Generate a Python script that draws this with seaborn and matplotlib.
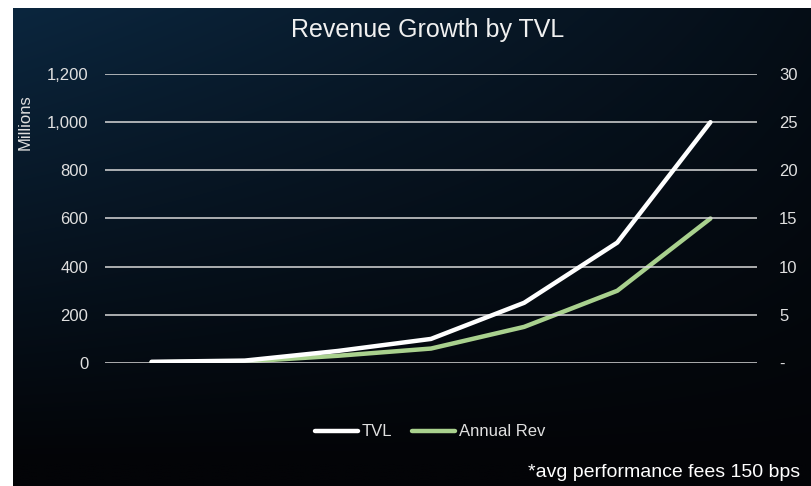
import numpy as np
import pandas as pd
import matplotlib
matplotlib.use("Agg")
import matplotlib.pyplot as plt
import seaborn as sns
from matplotlib.lines import Line2D
from matplotlib.ticker import FuncFormatter, MultipleLocator

# Data
periods = ["P1", "P2", "P3", "P4", "P5", "P6", "P7"]
tvl_millions = [5, 10, 50, 100, 250, 500, 1000]
annual_rev_millions = [0.075, 0.15, 0.75, 1.5, 3.75, 7.5, 15]

sns.set_theme(style="white")
narrow = ["Liberation Sans Narrow", "Liberation Sans", "DejaVu Sans"]
plt.rcParams['font.family'] = ["Liberation Sans", "DejaVu Sans"]

W, H = 812, 486
fig = plt.figure(figsize=(W / 100, H / 100), dpi=100)
fig.patch.set_facecolor("white")

# background gradient panel
bg = fig.add_axes([13 / W, 0, 1 - 13 / W, 1 - 8 / H])
ny, nx = 200, 300
yy, xx = np.mgrid[0:1:ny * 1j, 0:1:nx * 1j]
w = np.clip(1 - 1.05 * yy, 0, 1) ** 1.0 * np.clip(1 - 0.8 * xx, 0, 1) ** 0.8
navy = np.array([11, 38, 62]) / 255
black = np.array([3, 4, 7]) / 255
img = black + (navy - black) * w[..., None]
bg.imshow(img, aspect="auto", extent=[0, 1, 1, 0], interpolation="bilinear")
bg.set_axis_off()

df = pd.DataFrame({"period": periods, "TVL": tvl_millions, "Annual Rev": annual_rev_millions})

ax = fig.add_axes([105 / W, 1 - 363 / H, (757 - 105) / W, (363 - 74) / H])
ax.set_facecolor("none")
ax2 = ax.twinx()

sns.lineplot(data=df, x="period", y="TVL", ax=ax, color="white", linewidth=3.2, sort=False, zorder=4)
sns.lineplot(data=df, x="period", y="Annual Rev", ax=ax2, color="#a9d18e", linewidth=3.2, sort=False, zorder=3)

ax.set_ylim(0, 1200)
ax2.set_ylim(0, 30)
ax.set_xlim(-0.5, 6.5)
ax.yaxis.set_major_locator(MultipleLocator(200))
ax2.yaxis.set_major_locator(MultipleLocator(5))
ax.yaxis.set_major_formatter(FuncFormatter(lambda v, p: f"{int(v):,}"))
ax2.yaxis.set_major_formatter(FuncFormatter(lambda v, p: "-" if v == 0 else f"{int(v)}"))

ax.grid(axis="y", color="#d9d9d9", linewidth=1.1)
ax.set_axisbelow(True)
for a in (ax, ax2):
    for s in a.spines.values():
        s.set_visible(False)
    a.tick_params(axis="both", length=0, labelsize=12, labelcolor="#e0e0e0")
    a.set_xlabel("")
    a.set_ylabel("")
ax.set_xticks(range(len(periods)))
ax.set_xticklabels([])
ax.tick_params(axis="y", pad=12)
ax2.tick_params(axis="y", pad=16)
ax.set_zorder(ax2.get_zorder() + 1)
ax.patch.set_visible(False)

fig.text(25 / W, 1 - 122 / H, "Millions", rotation=90, ha="center", va="center",
         color="#e0e0e0", fontsize=12)
fig.text(428 / W, 1 - 30 / H, "Revenue Growth by TVL", ha="center", va="center",
         color="#f0f0f0", fontsize=18, family=narrow)

handles = [Line2D([], [], color="white", linewidth=3.2),
           Line2D([], [], color="#a9d18e", linewidth=3.2)]
leg = fig.legend(handles, ["TVL", "Annual Rev"], loc="center", bbox_to_anchor=(430 / W, 1 - 432 / H),
                 ncol=2, frameon=False, handlelength=2.6, handletextpad=0.2, columnspacing=1.2,
                 prop={"family": narrow, "size": 12})
for t in leg.get_texts():
    t.set_color("#e0e0e0")

fig.text(800 / W, 1 - 472 / H, "*avg performance fees 150 bps", ha="right", va="center",
         color="white", fontsize=14, family=narrow)

fig.savefig("out.png", dpi=100)
